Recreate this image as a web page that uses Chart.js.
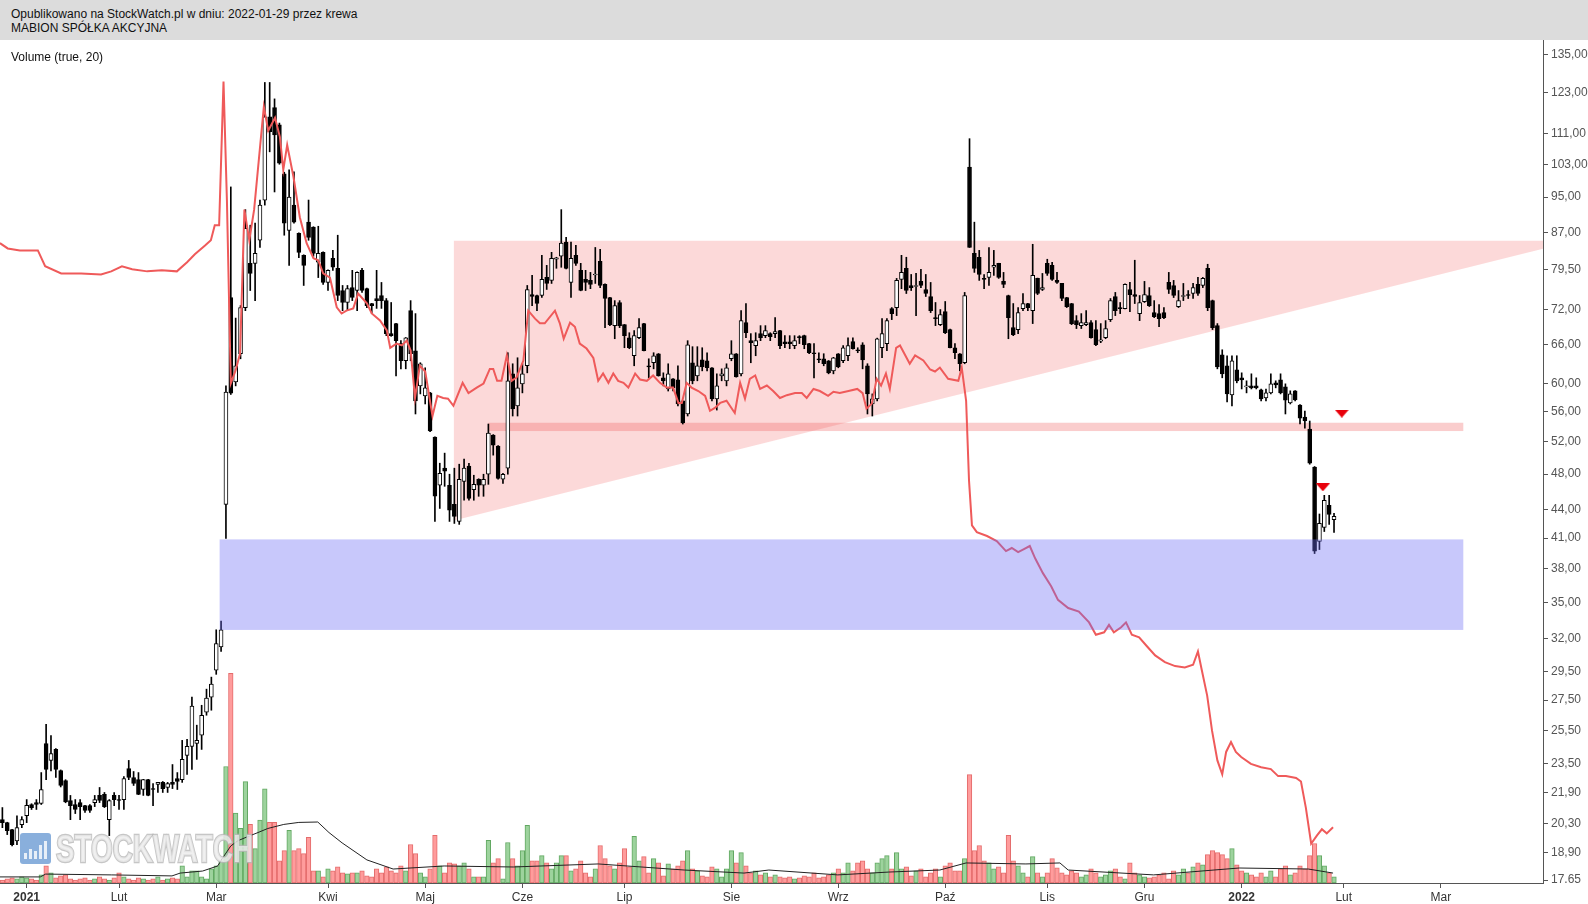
<!DOCTYPE html>
<html>
<head>
<meta charset="utf-8">
<script src="https://cdn.jsdelivr.net/npm/chart.js@4.4.1/dist/chart.umd.min.js"></script>
<style>
  html, body { margin: 0; padding: 0; background: #fff; }
  body { width: 1588px; height: 904px; position: relative; overflow: hidden; font-family: "Liberation Sans", Arial, sans-serif; }
  #hdr { position: absolute; left: 0; top: 0; width: 1588px; height: 40px; background: #dcdcdc; }
  .txt { position: absolute; left: 11px; font-size: 12px; line-height: 14px; color: #111; white-space: nowrap; }
  #wrap { position: absolute; left: 0; top: 40px; width: 1588px; height: 864px; }
</style>
</head>
<body>
<div id="hdr">
  <div class="txt" style="top:7px">Opublikowano na StockWatch.pl w dniu: 2022-01-29 przez krewa</div>
  <div class="txt" style="top:21px">MABION SPÓŁKA AKCYJNA</div>
</div>
<div id="wrap"><canvas id="js--chart" width="1588" height="864"></canvas></div>
<div class="txt" style="top:50px">Volume (true, 20)</div>
<script>
// sesje liczone od pierwszej sesji 2021 (dzien 0), pierwsza swieca to koniec grudnia 2020
const firstDay = -5;

const opens = [
  20.48, 20.33, 19.98, 19.44, 20.23, 20.68, 21.26, 21.36, 21.31, 24.71,
  23.70, 24.35, 23.12, 22.55, 21.47, 21.26, 21.36, 21.20, 21.20, 21.36,
  21.74, 21.80, 20.48, 21.74, 21.52, 21.52, 23.23, 22.72, 22.60, 22.06,
  22.60, 22.11, 22.34, 22.45, 22.17, 22.45, 22.66, 22.60, 24.00, 24.53,
  24.72, 25.22, 26.69, 27.70, 29.60, 31.35, 44.55, 74.16, 60.25, 64.57,
  72.35, 80.68, 80.68, 85.40, 94.30, 115.8, 118.4, 113.5, 100.6, 87.50,
  93.13, 86.90, 82.29, 89.30, 88.20, 80.90, 82.90, 76.97, 81.70, 79.70,
  75.45, 73.26, 76.00, 75.45, 79.30, 75.80, 73.07, 73.98, 74.53, 73.60,
  67.85, 69.55, 66.20, 63.46, 71.80, 65.05, 59.65, 58.19, 58.63, 52.58,
  46.69, 48.70, 46.69, 44.55, 42.71, 47.15, 48.94, 46.20, 47.39, 46.69,
  47.98, 52.84, 51.42, 47.39, 48.70, 61.45, 56.77, 59.95, 62.68, 74.70,
  74.53, 74.53, 77.93, 77.36, 81.50, 82.10, 85.00, 76.97, 82.29, 79.30,
  77.55, 77.36, 78.40, 81.09, 76.60, 74.16, 69.20, 73.26, 69.37, 67.17,
  64.25, 67.17, 69.55, 62.68, 63.15, 64.57, 60.85, 59.20, 60.70, 60.55,
  57.48, 55.66, 63.15, 61.15, 63.60, 63.46, 62.37, 57.76, 61.15, 60.40,
  63.77, 64.57, 61.45, 69.72, 66.68, 65.86, 67.85, 67.51, 67.85, 67.85,
  68.36, 66.50, 66.50, 65.86, 67.34, 67.51, 66.20, 64.73, 63.77, 63.77,
  63.46, 61.90, 64.57, 63.46, 64.25, 66.52, 65.20, 66.02, 62.68, 57.05,
  57.76, 65.53, 66.20, 72.17, 72.35, 77.55, 79.70, 76.40, 76.20, 77.17,
  75.65, 74.35, 70.58, 69.37, 71.64, 68.53, 65.53, 64.57, 63.15, 102.3,
  82.70, 81.90, 77.74, 77.93, 79.90, 80.68, 77.17, 74.53, 68.86, 68.53,
  72.17, 73.07, 71.80, 77.74, 75.65, 80.68, 80.28, 77.36, 76.78, 74.16,
  73.07, 70.06, 69.20, 69.37, 69.72, 68.53, 66.60, 67.17, 70.23, 74.35,
  72.35, 72.17, 75.65, 74.70, 71.28, 73.40, 74.53, 71.46, 71.28, 71.46,
  76.97, 76.40, 72.53, 74.35, 74.70, 74.90, 76.60, 76.40, 79.70, 73.60,
  69.20, 64.41, 62.68, 58.33, 62.06, 60.85, 59.50, 59.65, 59.65, 59.06,
  57.90, 58.63, 60.10, 60.55, 59.50, 57.20, 58.93, 56.91, 55.24, 53.63,
  48.82, 40.65, 42.08, 44.44, 42.90
];
const highs = [
  21.10, 20.35, 20.00, 20.68, 20.63, 21.52, 21.30, 21.52, 23.00, 25.90,
  25.20, 24.40, 23.15, 22.60, 21.74, 21.52, 21.52, 21.22, 21.25, 21.74,
  22.17, 21.90, 21.52, 21.90, 21.74, 22.78, 23.70, 23.06, 23.00, 22.62,
  22.62, 22.39, 22.46, 22.50, 22.45, 23.46, 23.00, 24.90, 24.97, 27.70,
  25.85, 27.15, 28.25, 29.10, 32.70, 33.40, 59.65, 97.40, 70.50, 72.71,
  92.10, 88.63, 89.10, 94.30, 126.0, 126.0, 121.0, 114.0, 101.0, 101.6,
  101.1, 87.00, 82.40, 94.30, 88.30, 88.40, 83.00, 79.40, 83.30, 86.47,
  76.40, 76.40, 79.30, 79.00, 79.70, 75.90, 73.10, 79.30, 76.97, 73.98,
  73.26, 69.60, 66.68, 67.20, 73.60, 71.28, 63.15, 62.37, 58.70, 52.60,
  49.30, 50.54, 47.98, 48.70, 49.18, 49.80, 49.30, 47.86, 47.45, 47.98,
  54.30, 52.90, 51.50, 48.10, 64.73, 62.99, 63.93, 62.99, 76.40, 78.32,
  74.60, 82.29, 80.28, 82.90, 81.90, 92.10, 86.00, 85.00, 84.35, 80.68,
  79.30, 78.90, 83.90, 83.50, 76.70, 74.20, 73.60, 73.60, 69.40, 68.00,
  68.36, 70.40, 69.60, 63.77, 64.73, 64.60, 61.60, 62.99, 60.75, 62.68,
  57.50, 66.68, 65.70, 65.70, 65.53, 64.73, 62.40, 61.45, 62.21, 62.99,
  66.68, 64.60, 71.80, 73.07, 67.85, 68.00, 69.20, 69.20, 68.00, 70.58,
  68.40, 67.51, 67.51, 67.51, 67.51, 67.60, 66.25, 66.20, 64.73, 64.57,
  63.50, 64.00, 64.60, 65.86, 67.17, 67.17, 65.53, 66.35, 63.00, 58.48,
  67.10, 70.40, 70.40, 72.35, 77.74, 82.29, 81.90, 78.50, 78.70, 79.50,
  78.50, 76.97, 73.26, 72.00, 73.44, 68.60, 66.20, 64.60, 75.10, 109.7,
  89.30, 83.30, 78.50, 83.90, 83.30, 80.70, 78.90, 74.60, 73.07, 72.35,
  74.90, 73.10, 84.56, 77.80, 78.70, 81.50, 80.90, 78.90, 76.80, 74.20,
  73.10, 70.93, 71.28, 71.80, 70.06, 70.06, 69.55, 70.06, 73.98, 75.10,
  73.26, 76.70, 76.97, 81.30, 74.53, 77.17, 76.00, 73.60, 72.90, 72.35,
  78.90, 77.36, 75.45, 76.78, 75.45, 76.78, 77.93, 77.93, 80.50, 73.70,
  69.55, 65.20, 64.25, 64.25, 64.25, 61.60, 60.40, 61.45, 60.85, 59.20,
  59.20, 61.45, 60.40, 61.45, 59.95, 58.93, 58.95, 56.95, 56.06, 54.70,
  48.90, 43.50, 45.55, 45.55, 43.57
];
const lows = [
  20.08, 19.74, 19.20, 19.25, 20.08, 20.33, 21.00, 21.00, 21.26, 22.60,
  23.10, 22.72, 22.20, 21.35, 20.48, 20.79, 20.48, 20.85, 20.85, 21.15,
  21.36, 21.10, 19.69, 21.20, 21.00, 21.00, 22.60, 22.28, 21.78, 21.74,
  21.72, 21.20, 21.90, 21.90, 21.90, 22.11, 22.06, 22.45, 22.89, 23.18,
  23.76, 24.35, 26.49, 26.82, 29.30, 31.00, 40.95, 58.40, 59.65, 63.77,
  71.80, 75.45, 73.60, 83.90, 93.13, 106.2, 96.20, 103.0, 86.47, 80.28,
  89.10, 81.80, 76.40, 85.40, 82.10, 77.90, 76.60, 75.45, 79.30, 73.60,
  71.80, 71.80, 73.60, 71.80, 75.10, 72.35, 71.30, 72.20, 72.20, 67.51,
  67.40, 61.15, 62.21, 62.21, 63.46, 55.66, 58.48, 57.05, 53.30, 42.71,
  44.10, 46.57, 42.71, 42.50, 42.40, 45.00, 45.00, 45.00, 45.44, 45.44,
  46.80, 50.29, 47.40, 46.90, 47.98, 55.38, 55.38, 58.63, 61.60, 72.71,
  71.80, 74.16, 75.65, 76.78, 79.70, 79.90, 79.60, 74.16, 80.28, 75.40,
  75.45, 75.80, 76.78, 76.00, 68.86, 69.20, 67.00, 68.86, 65.53, 65.37,
  62.68, 67.00, 65.00, 60.85, 62.21, 61.10, 59.65, 58.90, 58.90, 56.77,
  54.30, 55.38, 59.95, 60.40, 61.90, 61.90, 57.48, 56.20, 60.40, 59.65,
  63.46, 60.95, 61.15, 67.17, 63.15, 64.25, 66.68, 67.17, 66.68, 67.17,
  65.37, 65.53, 65.37, 65.37, 66.20, 65.37, 64.57, 60.85, 63.15, 62.68,
  61.45, 61.45, 62.37, 63.15, 63.46, 65.30, 64.73, 62.21, 55.66, 55.38,
  57.48, 63.93, 65.05, 70.23, 70.93, 75.80, 74.90, 75.45, 70.93, 76.00,
  74.35, 71.46, 69.20, 69.20, 67.85, 65.50, 63.77, 61.90, 62.99, 83.90,
  78.90, 77.36, 75.80, 76.40, 78.32, 77.74, 76.00, 67.00, 67.51, 67.85,
  71.80, 71.80, 69.55, 74.70, 75.45, 78.32, 77.36, 76.78, 73.60, 72.35,
  69.37, 68.70, 68.70, 69.20, 67.10, 65.86, 66.35, 67.00, 69.90, 70.93,
  71.28, 72.10, 71.64, 73.07, 70.06, 73.26, 72.53, 70.58, 69.03, 70.40,
  74.90, 74.16, 72.35, 73.60, 73.98, 73.98, 74.53, 76.00, 71.80, 68.53,
  62.21, 60.85, 57.33, 56.77, 60.10, 59.20, 58.63, 59.20, 59.20, 57.48,
  57.48, 58.48, 59.36, 58.48, 55.66, 57.05, 57.48, 54.30, 53.76, 49.18,
  39.46, 39.85, 41.66, 42.40, 41.56
];
const closes = [
  20.33, 19.93, 19.25, 20.08, 20.48, 21.21, 21.10, 21.26, 22.06, 23.18,
  24.10, 23.18, 22.28, 21.40, 21.20, 21.00, 21.15, 20.95, 20.95, 21.52,
  21.47, 21.15, 21.47, 21.52, 21.47, 22.66, 22.72, 22.39, 21.80, 22.60,
  21.74, 22.06, 22.45, 22.11, 22.39, 22.34, 22.50, 23.76, 24.53, 27.09,
  24.90, 26.49, 27.63, 28.60, 31.60, 32.70, 58.76, 58.60, 62.68, 72.35,
  87.97, 78.70, 82.70, 93.13, 115.8, 111.6, 110.75, 103.3, 89.10, 95.00,
  89.30, 82.90, 80.28, 86.00, 82.70, 82.70, 76.97, 79.30, 79.90, 74.53,
  73.26, 75.80, 74.16, 78.90, 75.45, 72.71, 72.71, 73.60, 73.60, 67.85,
  67.51, 66.68, 63.46, 67.17, 64.57, 57.48, 62.99, 59.36, 53.37, 45.44,
  48.10, 48.34, 43.90, 43.24, 47.39, 48.70, 45.20, 46.80, 46.69, 47.39,
  53.10, 51.54, 47.50, 47.98, 60.40, 56.35, 59.36, 61.45, 75.65, 74.35,
  73.07, 77.55, 76.78, 81.70, 81.80, 84.80, 79.70, 81.70, 80.68, 75.45,
  76.97, 76.60, 78.50, 76.40, 73.98, 69.37, 72.71, 69.20, 67.51, 65.53,
  67.51, 68.86, 65.05, 62.50, 64.25, 61.15, 60.40, 61.45, 59.36, 57.05,
  54.43, 66.02, 60.40, 62.68, 62.50, 62.37, 57.76, 59.65, 61.45, 62.37,
  64.57, 61.00, 70.06, 68.00, 66.35, 66.68, 67.17, 68.36, 67.34, 68.20,
  65.86, 66.20, 66.20, 66.68, 67.17, 66.02, 64.73, 64.57, 63.60, 62.99,
  61.60, 63.93, 62.52, 65.53, 65.86, 65.37, 65.05, 63.60, 58.48, 57.76,
  67.00, 67.85, 70.06, 71.28, 77.36, 78.90, 75.45, 76.00, 76.40, 76.40,
  74.90, 71.80, 70.40, 71.10, 68.00, 65.53, 64.73, 62.99, 74.53, 83.93,
  79.70, 78.50, 77.55, 78.90, 80.28, 77.93, 76.60, 70.58, 67.68, 71.46,
  73.07, 72.35, 78.32, 74.90, 76.00, 78.70, 77.55, 76.97, 73.98, 72.53,
  69.55, 69.37, 69.72, 69.72, 67.17, 66.02, 66.80, 68.70, 73.60, 71.80,
  72.17, 76.60, 74.70, 74.35, 73.26, 74.70, 72.71, 70.76, 70.40, 70.58,
  75.65, 74.53, 73.60, 74.53, 74.53, 76.00, 74.90, 77.74, 72.35, 68.86,
  62.52, 61.45, 58.48, 63.46, 60.40, 60.55, 59.65, 59.36, 59.36, 57.76,
  58.63, 59.95, 59.80, 58.63, 57.60, 58.48, 57.62, 55.10, 54.70, 49.30,
  39.70, 42.50, 45.00, 43.46, 43.24
];
// wolumen w tys. szt.
const volumes = [
  15, 20, 25, 20, 30, 25, 20, 15, 40, 85,
  50, 25, 35, 40, 20, 15, 20, 25, 15, 20,
  30, 20, 15, 25, 50, 30, 20, 15, 25, 20,
  15, 20, 30, 15, 20, 25, 20, 85, 30, 60,
  60, 30, 20, 70, 85, 110, 575, 1035, 345, 270,
  500, 290, 170, 310, 465, 300, 300, 110, 160, 260,
  160, 170, 145, 225, 60, 60, 30, 70, 60, 80,
  50, 45, 50, 50, 60, 35, 30, 70, 50, 80,
  60, 50, 85, 60, 190, 145, 50, 30, 70, 235,
  85, 50, 100, 95, 85, 100, 70, 30, 30, 30,
  210, 100, 120, 20, 200, 120, 85, 160, 285, 110,
  110, 135, 100, 70, 100, 135, 135, 60, 70, 110,
  50, 30, 70, 185, 120, 85, 70, 100, 170, 80,
  230, 110, 130, 50, 120, 100, 35, 95, 70, 85,
  110, 160, 70, 60, 35, 30, 80, 70, 30, 70,
  160, 100, 150, 85, 50, 60, 40, 50, 30, 40,
  30, 25, 30, 20, 25, 35, 30, 50, 25, 30,
  40, 50, 70, 50, 100, 60, 100, 110, 70, 50,
  100, 120, 135, 70, 150, 70, 80, 35, 60, 70,
  30, 50, 70, 30, 85, 100, 60, 60, 120, 535,
  160, 185, 110, 100, 70, 80, 50, 235, 110, 85,
  50, 30, 130, 50, 30, 50, 120, 75, 50, 40,
  60, 50, 30, 40, 70, 50, 30, 40, 60, 70,
  30, 20, 100, 50, 40, 30, 25, 30, 40, 50,
  20, 60, 40, 70, 50, 80, 100, 90, 140, 160,
  150, 140, 120, 170, 90, 60, 50, 40, 30, 50,
  30, 60, 30, 70, 85, 40, 50, 85, 70, 135,
  195, 135, 85, 50, 30
];

// czerwona linia (punkty: sesja, cena)
const compDays = [
  -5.5, -3.9, -1.4, 2.3, 3.8, 7.1, 11.2, 15.3, 17.4, 19.6, 21.7, 24.8, 27.8, 30.9, 33.0, 34.6, 36.7, 37.9, 38.7, 39.6,
  40.5, 41.2, 42.0, 43.0, 43.9, 44.8, 45.8, 46.8, 48.8, 49.7, 51.1, 52.1, 52.8, 53.6, 54.9, 56.2, 57.6, 59.0, 60.0, 61.0,
  62.4, 63.8, 64.8, 65.8, 67.2, 68.2, 70.0, 71.0, 72.7, 74.1, 74.8, 76.1, 77.2, 78.2, 79.0, 79.9, 80.9, 82.0, 83.5, 84.5,
  85.7, 86.7, 87.8, 89.7, 90.9, 92.6, 94.0, 95.3, 96.0, 96.8, 97.7, 98.8, 99.8, 100.8, 102.2, 103.2, 104.6, 105.6, 106.6, 108.7,
  109.7, 110.5, 111.8, 112.8, 113.8, 115.2, 116.6, 117.6, 118.6, 119.7, 120.7, 121.7, 122.8, 123.8, 125.2, 126.2, 127.6, 128.9, 130.3, 131.7,
  133.0, 134.1, 134.8, 135.8, 136.8, 138.2, 139.6, 140.6, 141.6, 142.7, 144.0, 145.7, 146.8, 147.8, 148.8, 149.9, 150.9, 152.3, 153.6, 155.0,
  156.4, 158.1, 159.5, 160.5, 161.9, 163.2, 164.9, 166.0, 167.3, 169.1, 170.9, 172.0, 172.8, 173.9, 174.9, 175.8, 176.8, 177.6, 178.9, 179.7,
  181.7, 182.8, 184.5, 185.9, 186.9, 187.9, 189.6, 191.7, 192.4, 193.3, 193.9, 194.5, 195.5, 197.6, 199.6, 201.5, 202.7, 204.0, 205.2, 206.4,
  207.5, 209.1, 210.8, 212.2, 214.3, 216.5, 218.6, 220.0, 221.7, 222.7, 223.7, 225.2, 226.2, 227.4, 228.9, 230.5, 232.2, 234.2, 236.3, 238.3,
  240.0, 241.0, 241.8, 242.9, 243.9, 245.0, 246.0, 246.8, 247.8, 248.8, 249.9, 251.9, 254.0, 256.0, 257.5, 259.1, 261.2, 262.2, 263.2, 264.3,
  265.5, 266.5, 267.5, 268.8
];
const compValues = [
  84.8, 83.7, 83.3, 83.3, 80.1, 78.7, 78.7, 78.5, 79.1, 80.1, 79.5, 79.1, 79.3, 79.1, 80.9, 82.5, 84.3, 85.4, 88.6, 88.6,
  126.3, 94.3, 60.0, 62.0, 64.6, 92.1, 85.4, 92.1, 118.7, 111.9, 115.5, 110.2, 101.6, 108.0, 99.8, 90.4, 84.8, 81.7, 81.3, 78.7,
  77.9, 72.4, 71.3, 71.8, 72.2, 74.9, 73.1, 71.3, 70.1, 68.4, 65.5, 66.2, 65.9, 66.7, 65.1, 57.9, 62.7, 61.8, 55.4, 58.2,
  57.9, 57.8, 56.8, 60.1, 58.6, 59.4, 60.0, 62.2, 62.2, 60.4, 60.4, 64.3, 60.4, 60.9, 63.5, 71.8, 70.4, 69.6, 69.6, 71.8,
  69.6, 67.0, 69.7, 69.0, 66.2, 65.4, 63.9, 60.4, 61.5, 60.1, 61.5, 60.4, 60.1, 59.4, 61.5, 60.6, 60.4, 61.2, 60.1, 59.4,
  59.4, 57.2, 57.2, 60.1, 59.4, 58.9, 58.2, 56.1, 56.5, 57.2, 57.5, 55.8, 60.1, 57.8, 60.7, 61.2, 59.2, 59.7, 58.9, 57.9,
  58.3, 58.6, 58.6, 57.9, 59.2, 58.9, 58.2, 58.8, 58.6, 58.9, 59.2, 58.6, 56.4, 57.1, 60.7, 59.7, 61.5, 59.2, 65.5, 65.9,
  63.0, 64.3, 63.5, 62.1, 61.8, 62.4, 60.7, 60.4, 62.4, 57.5, 47.2, 42.3, 41.6, 41.2, 40.7, 39.7, 40.0, 39.6, 39.9, 40.2,
  39.0, 37.6, 36.4, 35.2, 34.5, 34.2, 33.3, 32.3, 32.5, 33.1, 32.5, 32.9, 33.3, 32.3, 32.1, 31.4, 30.7, 30.2, 29.9, 29.8,
  30.0, 31.0, 29.6, 27.8, 25.5, 23.7, 22.9, 24.2, 24.8, 24.2, 23.9, 23.5, 23.3, 23.2, 22.8, 22.8, 22.7, 22.5, 21.1, 19.3,
  19.7, 20.0, 19.8, 20.1
];

// srednia z wolumenu (20 sesji), punkty
const volMaDays = [-5.5, 2.8, 3.9, 17.4, 29.9, 31.6, 36.2, 39.3, 40.2, 42.0, 43.5, 45.5, 47.6, 49.6, 52.9, 56.0, 59.9, 62.2, 64.9, 70.0,
  75.4, 85.9, 100.1, 117.6, 135.3, 147.6, 152.7, 166.9, 177.4, 187.9, 193.3, 205.6, 212.6, 214.3, 231.9, 244.3, 249.5, 263.7, 268.8];
const volMaValues = [30, 30, 44, 40, 35, 49, 59, 84, 119, 183, 209, 229, 249, 269, 289, 299, 301, 249, 198, 114,
  69, 84, 79, 94, 64, 49, 64, 40, 54, 64, 99, 94, 99, 64, 40, 64, 74, 69, 49];

const monthTicks = [0, 19, 39, 62, 82, 102, 123, 145, 167, 189, 210, 230, 250, 271, 291];
const monthLabels = ['2021', 'Lut', 'Mar', 'Kwi', 'Maj', 'Cze', 'Lip', 'Sie', 'Wrz', 'Paź', 'Lis', 'Gru', '2022', 'Lut', 'Mar'];

const priceTicks = [17.65, 18.9, 20.3, 21.9, 23.5, 25.5, 27.5, 29.5, 32, 35, 38, 41, 44, 48, 52, 56, 60, 66, 72, 79.5, 87, 95, 103, 111, 123, 135];
const priceLabels = ['17.65', '18,90', '20,30', '21,90', '23,50', '25,50', '27,50', '29,50', '32,00', '35,00', '38,00', '41,00', '44,00',
  '48,00', '52,00', '56,00', '60,00', '66,00', '72,00', '79,50', '87,00', '95,00', '103,00', '111,00', '123,00', '135,00'];

// strefy narysowane na wykresie (sesja, cena)
const triangleZone = [[87.9, 85.3], [87.9, 42.8], [318.5, 85.3]];
const resistanceBand = { from: 95.0, to: 295.6, low: 53.37, high: 54.47 };
const supportBox = { from: 39.7, to: 295.6, low: 32.69, high: 40.86 };
const sellMarks = [[266.7, 46.45], [270.6, 55.7]];

Chart.defaults.font.family = '"Liberation Sans", Arial, sans-serif';
Chart.defaults.font.size = 12;

const days = opens.map((o, i) => firstDay + i);
const up = days.map((d, i) => closes[i] >= opens[i]);

// trojkat sygnalu (plaski, w dol)
const markImg = document.createElement('canvas');
markImg.width = 14;
markImg.height = 8;
const mctx = markImg.getContext('2d');
mctx.fillStyle = '#e8000b';
mctx.beginPath();
mctx.moveTo(0, 0);
mctx.lineTo(14, 0);
mctx.lineTo(7, 8);
mctx.closePath();
mctx.fill();

const zones = {
  id: 'zones',
  beforeDatasetsDraw(chart) {
    const { ctx, chartArea: a, scales: { x, y } } = chart;
    ctx.save();
    ctx.beginPath();
    ctx.rect(a.left, a.top, a.width, a.height);
    ctx.clip();
    ctx.fillStyle = 'rgba(245,110,110,0.26)';
    ctx.beginPath();
    triangleZone.forEach((p, i) => {
      const px = x.getPixelForValue(p[0]), py = y.getPixelForValue(p[1]);
      if (i == 0) ctx.moveTo(px, py); else ctx.lineTo(px, py);
    });
    ctx.closePath();
    ctx.fill();
    ctx.fillStyle = 'rgba(240,90,90,0.3)';
    const b = resistanceBand;
    const bx = x.getPixelForValue(b.from), by = y.getPixelForValue(b.high);
    ctx.fillRect(bx, by, x.getPixelForValue(b.to) - bx, y.getPixelForValue(b.low) - by);
    ctx.restore();
  },
  afterDatasetsDraw(chart) {
    const { ctx, scales: { x, y } } = chart;
    const s = supportBox;
    const sx = x.getPixelForValue(s.from), sy = y.getPixelForValue(s.high);
    ctx.save();
    ctx.fillStyle = 'rgba(110,110,245,0.38)';
    ctx.fillRect(sx, sy, x.getPixelForValue(s.to) - sx, y.getPixelForValue(s.low) - sy);
    ctx.restore();
  }
};

const watermark = {
  id: 'watermark',
  afterDraw(chart) {
    const c = chart.ctx;
    c.save();
    c.globalAlpha = 0.8;
    c.fillStyle = '#6b9bd3';
    c.beginPath();
    c.roundRect(20, 793, 31, 31, 3);
    c.fill();
    c.fillStyle = '#ffffff';
    [6, 10, 8, 14, 18].forEach((h, i) => c.fillRect(24 + i * 5, 819 - h, 3, h));
    c.font = 'bold 38px "Liberation Sans"';
    const w = c.measureText('STOCKWATCH').width;
    c.translate(56, 822);
    c.scale(197 / w, 1);
    c.lineWidth = 2.5;
    c.strokeStyle = '#b8b8b8';
    c.strokeText('STOCKWATCH', 0, 0);
    c.fillStyle = '#ececec';
    c.fillText('STOCKWATCH', 0, 0);
    c.restore();
  }
};

const chart = new Chart(document.getElementById('js--chart'), {
  type: 'bar',
  data: {
    datasets: [
      {
        type: 'line',
        data: sellMarks.map(m => ({ x: m[0], y: m[1] })),
        showLine: false,
        pointStyle: markImg,
        pointRadius: 7,
        order: 0
      },
      {
        type: 'line',
        data: compDays.map((d, i) => ({ x: d, y: compValues[i] })),
        borderColor: '#ef5a5a',
        borderWidth: 2,
        pointRadius: 0,
        tension: 0,
        order: 1
      },
      {
        data: days.map((d, i) => ({ x: d, y: [opens[i], closes[i]] })),
        backgroundColor: up.map(u => u ? '#ffffff' : '#000000'),
        borderColor: '#000000',
        borderWidth: 1,
        borderSkipped: false,
        barThickness: 4,
        minBarLength: 1,
        grouped: false,
        order: 2
      },
      {
        data: days.map((d, i) => ({ x: d, y: [lows[i], highs[i]] })),
        backgroundColor: '#000000',
        barThickness: 1,
        grouped: false,
        order: 3
      },
      {
        type: 'line',
        yAxisID: 'yv',
        data: volMaDays.map((d, i) => ({ x: d, y: volMaValues[i] })),
        borderColor: '#222222',
        borderWidth: 1,
        pointRadius: 0,
        tension: 0,
        order: 4
      },
      {
        yAxisID: 'yv',
        data: days.map((d, i) => ({ x: d, y: volumes[i] })),
        backgroundColor: up.map(u => u ? '#9dd39d' : '#ff9c9c'),
        borderColor: up.map(u => u ? '#62a862' : '#e46c6c'),
        borderWidth: 1,
        borderSkipped: false,
        barThickness: 4.6,
        grouped: false,
        order: 5
      }
    ]
  },
  options: {
    responsive: false,
    animation: false,
    devicePixelRatio: 1,
    layout: { padding: 0, autoPadding: false },
    plugins: { legend: { display: false }, tooltip: { enabled: false } },
    scales: {
      x: {
        type: 'linear',
        position: 'bottom',
        min: -5.49,
        max: 312,
        offset: false,
        grid: { display: true, drawOnChartArea: false, drawTicks: true, tickLength: 5, color: '#555', offset: false },
        border: { display: true, color: '#555', width: 1 },
        ticks: {
          autoSkip: false,
          maxRotation: 0,
          padding: 2,
          color: '#333',
          font: (ctx) => ({ size: 12, weight: /^20/.test(monthLabels[ctx.index] || '') ? 'bold' : 'normal' }),
          callback: (v, i) => monthLabels[i]
        },
        afterBuildTicks: (s) => { s.ticks = monthTicks.map(v => ({ value: v })); },
        afterFit: (s) => { s.height = 21; s.paddingLeft = 0; s.paddingRight = 0; }
      },
      y: {
        type: 'logarithmic',
        position: 'right',
        min: 17.52,
        max: 139.9,
        grid: { display: true, drawOnChartArea: false, drawTicks: true, tickLength: 5, color: '#555' },
        border: { display: true, color: '#555', width: 1 },
        ticks: {
          autoSkip: false,
          padding: 3,
          color: '#555',
          font: { size: 12 },
          callback: (v, i) => priceLabels[i]
        },
        afterBuildTicks: (s) => { s.ticks = priceTicks.map(v => ({ value: v })); },
        afterFit: (s) => { s.width = 45; s.paddingTop = 0; s.paddingBottom = 0; }
      },
      yv: { type: 'linear', display: false, min: 0, max: 4160 }
    }
  },
  plugins: [zones, watermark]
});
</script>
</body>
</html>
